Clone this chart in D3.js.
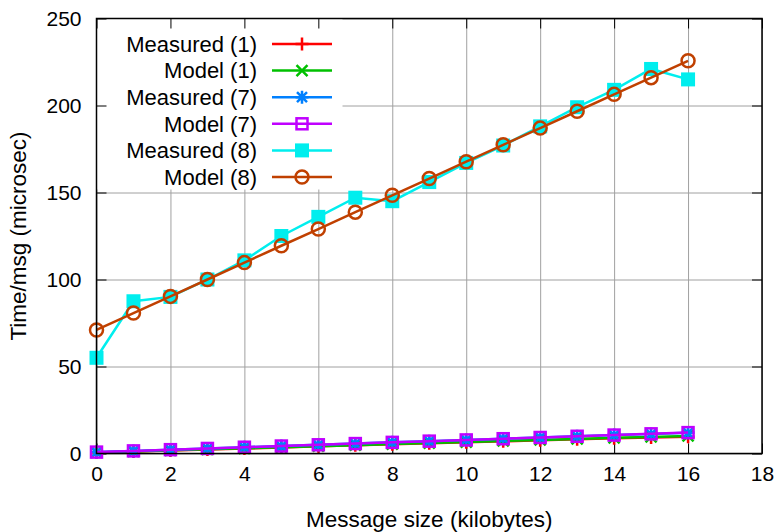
<!DOCTYPE html>
<html>
<head>
<meta charset="utf-8">
<script src="https://d3js.org/d3.v7.min.js"></script>
<style>
  body { margin: 0; background: #fff; }
  svg text { font-family: "Liberation Sans", Arial, sans-serif; }
  .axis path { display: none; }
  .axis line { stroke: #000; stroke-width: 1; }
  .axis text { font-size: 21px; fill: #000; }
  .grid line { stroke: #a0a0a0; stroke-width: 1; }
  .grid path { display: none; }
</style>
</head>
<body>
<svg id="chart" width="776" height="532"></svg>
<script>
// message size in kilobytes
const sizes = [0, 1, 2, 3, 4, 5, 6, 7, 8, 9, 10, 11, 12, 13, 14, 15, 16];

// time per message (microsec)
const measured1 = [0.6, 1.1, 1.7, 2.3, 2.9, 3.5, 4.1, 4.7, 5.3, 5.9, 6.5, 7.0, 7.6, 8.2, 8.7, 9.2, 9.6];
const model1    = [0.6, 1.2, 1.8, 2.4, 3.0, 3.6, 4.2, 4.8, 5.4, 6.0, 6.6, 7.2, 7.8, 8.4, 9.0, 9.5, 10.1];
const measured7 = [0.8, 1.5, 2.2, 2.9, 3.6, 4.3, 5.0, 5.7, 6.4, 7.1, 7.8, 8.5, 9.2, 9.9, 10.6, 11.2, 11.9];
const model7    = [0.8, 1.5, 2.2, 2.9, 3.6, 4.3, 5.0, 5.7, 6.4, 7.1, 7.8, 8.5, 9.2, 9.9, 10.6, 11.3, 12.0];
const measured8 = [55, 87.5, 90, 100, 111, 125, 136, 147, 145, 156, 167, 177, 188, 199, 209, 221, 215];
const model8    = [71, 80.7, 90.3, 100, 109.7, 119.4, 129, 138.7, 148.4, 158, 167.7, 177.4, 187, 196.7, 206.4, 216, 225.7];

const seriesNames = ["Measured (1)", "Model (1)", "Measured (7)", "Model (7)", "Measured (8)", "Model (8)"];
const seriesColors = ["#ff0000", "#00c000", "#0080ff", "#c000ff", "#00eeee", "#c04000"];
const seriesMarkers = ["plus", "cross", "star", "square", "fsquare", "circle"];
const seriesValues = [measured1, model1, measured7, model7, measured8, model8];

const xTicks = [0, 2, 4, 6, 8, 10, 12, 14, 16, 18];
const yTicks = [0, 50, 100, 150, 200, 250];

const svg = d3.select("svg#chart");
const margin = {top: 18.5, right: 14, bottom: 78.5, left: 96.5};
const width = +svg.attr("width") - margin.left - margin.right;
const height = +svg.attr("height") - margin.top - margin.bottom;

const x = d3.scaleLinear().domain([0, 18]).range([0, width]);
const y = d3.scaleLinear().domain([0, 250]).range([height, 0]);

const g = svg.append("g").attr("transform", "translate(" + margin.left + "," + margin.top + ")");

// grid
g.append("g").attr("class", "grid")
  .attr("transform", "translate(0," + height + ")")
  .call(d3.axisBottom(x).tickValues(xTicks).tickFormat("").tickSize(-height));
g.append("g").attr("class", "grid")
  .call(d3.axisLeft(y).tickValues(yTicks).tickFormat("").tickSize(-width));

// legend backing box hides the grid behind it
g.append("rect")
  .attr("x", 0).attr("y", 0)
  .attr("width", 246).attr("height", 171)
  .attr("fill", "#fff");

// ticks on all four sides, pointing in
g.append("g").attr("class", "axis")
  .attr("transform", "translate(0," + height + ")")
  .call(d3.axisBottom(x).tickValues(xTicks).tickSize(-10).tickPadding(13));
g.append("g").attr("class", "axis")
  .call(d3.axisTop(x).tickValues(xTicks).tickFormat("").tickSize(-10));
g.append("g").attr("class", "axis")
  .call(d3.axisLeft(y).tickValues(yTicks).tickSize(-10).tickPadding(15));
g.append("g").attr("class", "axis")
  .attr("transform", "translate(" + width + ",0)")
  .call(d3.axisRight(y).tickValues(yTicks).tickFormat("").tickSize(-10));

function drawMarker(sel, type, color, cx, cy) {
  const s = 6.5;
  if (type === "plus") {
    sel.append("path").attr("d", `M${cx - s},${cy}H${cx + s}M${cx},${cy - s}V${cy + s}`)
      .attr("stroke", color).attr("stroke-width", 2.5).attr("fill", "none");
  } else if (type === "cross") {
    const c = 5.5;
    sel.append("path").attr("d", `M${cx - c},${cy - c}L${cx + c},${cy + c}M${cx - c},${cy + c}L${cx + c},${cy - c}`)
      .attr("stroke", color).attr("stroke-width", 2.5).attr("fill", "none");
  } else if (type === "star") {
    const c = 5;
    sel.append("path").attr("d", `M${cx - s},${cy}H${cx + s}M${cx},${cy - s}V${cy + s}M${cx - c},${cy - c}L${cx + c},${cy + c}M${cx - c},${cy + c}L${cx + c},${cy - c}`)
      .attr("stroke", color).attr("stroke-width", 2.5).attr("fill", "none");
  } else if (type === "square") {
    sel.append("rect").attr("x", cx - 5.5).attr("y", cy - 5.5).attr("width", 11).attr("height", 11)
      .attr("stroke", color).attr("stroke-width", 2.5).attr("fill", "none");
  } else if (type === "fsquare") {
    sel.append("rect").attr("x", cx - 7).attr("y", cy - 7).attr("width", 14).attr("height", 14)
      .attr("fill", color);
  } else if (type === "circle") {
    sel.append("circle").attr("cx", cx).attr("cy", cy).attr("r", 6.5)
      .attr("stroke", color).attr("stroke-width", 2.5).attr("fill", "none");
  }
}

const line = d3.line().x(d => x(d[0])).y(d => y(d[1]));

seriesValues.forEach((vals, i) => {
  const pts = sizes.map((s, j) => [s, vals[j]]);
  const sg = g.append("g");
  sg.append("path").datum(pts).attr("d", line)
    .attr("fill", "none").attr("stroke", seriesColors[i]).attr("stroke-width", 2.5);
  pts.forEach(p => drawMarker(sg, seriesMarkers[i], seriesColors[i], x(p[0]), y(p[1])));
});

// legend
const legend = svg.append("g");
seriesNames.forEach((name, i) => {
  const ly = 44 + i * 26.6;
  legend.append("text").attr("x", 257).attr("y", ly).attr("dy", "0.35em")
    .attr("text-anchor", "end").style("font-size", "22px").text(name);
  legend.append("line").attr("x1", 272).attr("x2", 332).attr("y1", ly).attr("y2", ly)
    .attr("stroke", seriesColors[i]).attr("stroke-width", 2.5);
  drawMarker(legend, seriesMarkers[i], seriesColors[i], 302, ly);
});

// border
g.append("rect").attr("width", width).attr("height", height)
  .attr("fill", "none").attr("stroke", "#000").attr("stroke-width", 1.5);

// axis titles
svg.append("text")
  .attr("x", margin.left + width / 2).attr("y", 527)
  .attr("text-anchor", "middle").style("font-size", "22.5px")
  .text("Message size (kilobytes)");
svg.append("text")
  .attr("transform", "translate(26," + (margin.top + height / 2) + ") rotate(-90)")
  .attr("text-anchor", "middle").style("font-size", "22.5px")
  .text("Time/msg (microsec)");
</script>
</body>
</html>
